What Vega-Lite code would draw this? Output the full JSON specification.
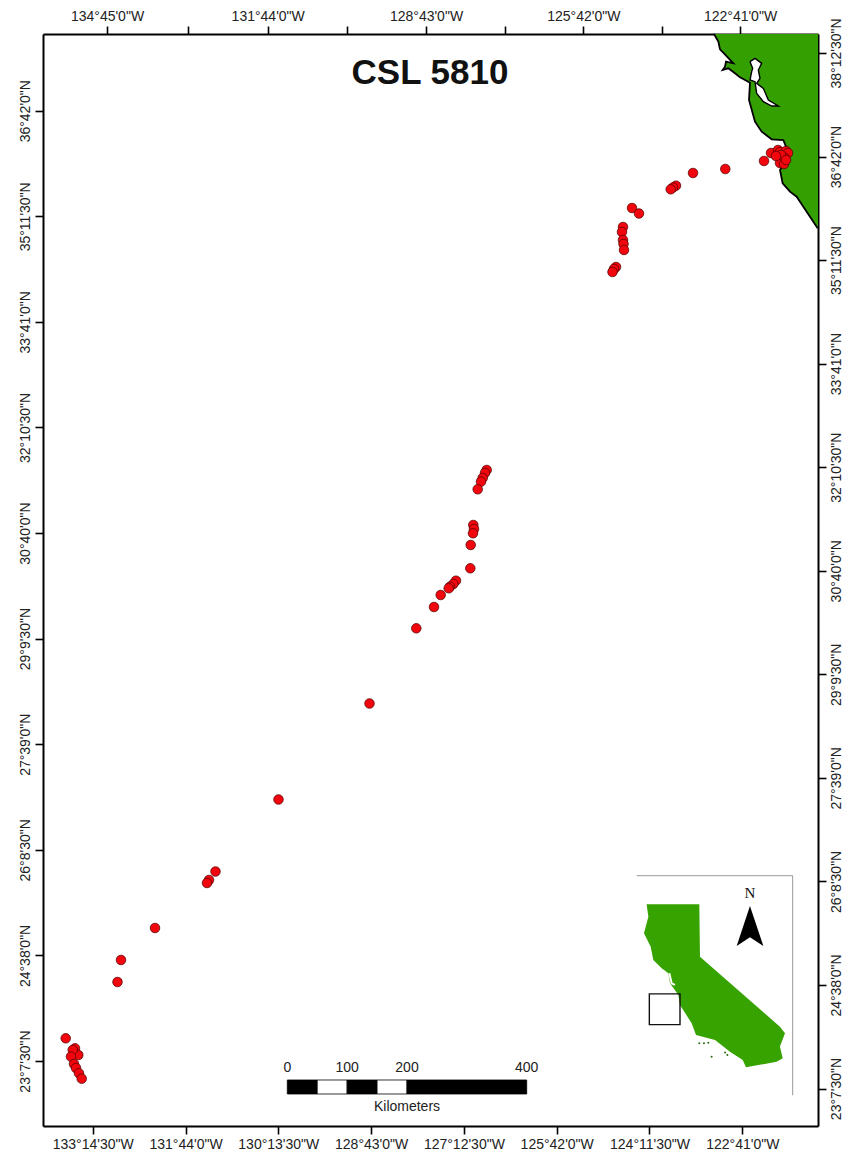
{
"$schema":"https://vega.github.io/schema/vega-lite/v6.json",
"width":775,"height":1092,"autosize":"none",
"padding":{"left":43,"top":34,"right":25,"bottom":28},
"background":"white",
"config":{"view":{"stroke":null},"axis":{"grid":false,"title":null,"domainColor":"black","domainWidth":2,"tickColor":"black","tickWidth":1.6,"tickSize":8,"labelFont":"Liberation Sans","labelFontSize":14,"labelColor":"#222222","labelPadding":3,"zindex":1,"labelOverlap":false,"labelBound":false,"labelFlush":false}},
"resolve":{"scale":{"x":"independent","y":"independent"},"axis":{"x":"independent","y":"independent"}},
"layer":[
{"data":{"values":[{"i":0,"lon":-123.1431,"lat":37.7957},{"i":1,"lon":-123.0727,"lat":37.6862},{"i":2,"lon":-123.0456,"lat":37.5767},{"i":3,"lon":-122.9806,"lat":37.5195},{"i":4,"lon":-122.8289,"lat":37.3767},{"i":5,"lon":-122.9481,"lat":37.4005},{"i":6,"lon":-122.9643,"lat":37.3291},{"i":7,"lon":-123.0022,"lat":37.2814},{"i":8,"lon":-122.9101,"lat":37.3053},{"i":9,"lon":-122.8018,"lat":37.2338},{"i":10,"lon":-122.7205,"lat":37.1767},{"i":11,"lon":-122.558,"lat":37.1005},{"i":12,"lon":-122.5742,"lat":36.8529},{"i":13,"lon":-122.4767,"lat":36.5434},{"i":14,"lon":-122.3683,"lat":36.4005},{"i":15,"lon":-122.2058,"lat":36.291},{"i":16,"lon":-122.0162,"lat":36.2815},{"i":17,"lon":-121.9782,"lat":36.1957},{"i":18,"lon":-121.9186,"lat":36.091},{"i":19,"lon":-121.962,"lat":35.9958},{"i":20,"lon":-122.0703,"lat":35.8529},{"i":21,"lon":-122.027,"lat":35.6625},{"i":22,"lon":-121.9078,"lat":35.5434},{"i":23,"lon":-121.7994,"lat":35.472},{"i":24,"lon":-121.6911,"lat":35.3291},{"i":25,"lon":-121.5827,"lat":35.1863},{"i":26,"lon":-121.4581,"lat":35.0196},{"i":27,"lon":-121.4527,"lat":35.0196},{"i":28,"lon":-121.4527,"lat":37.7957},{"i":29,"lon":-123.1431,"lat":37.7957}]},
"transform":[{"filter":"datum.i<=28"}],
"mark":{"type":"line","fill":"#339f00","stroke":"black","strokeWidth":0,"strokeJoin":"round"},
"encoding":{"order":{"field":"i"},
"x":{"field":"lon","type":"quantitative","scale":{"domain":[-134.0496,-121.4527],"nice":false,"zero":false},"axis":{"orient":"bottom","values":[-133.24167,-131.73333,-130.225,-128.71667,-127.20833,-125.7,-124.19167,-122.68333],"labelExpr":"floor(abs(datum.value)+1e-6)+'°'+floor((abs(datum.value)%1)*60+1e-3)+\"'\"+(round(((abs(datum.value)*60)%1)*60)%60)+'\"W'"}},
"y":{"field":"lat","type":"quantitative","scale":{"domain":[22.1964,37.7957],"nice":false,"zero":false},"axis":{"orient":"left","values":[36.7,35.19167,33.68333,32.175,30.66667,29.15833,27.65,26.14167,24.63333,23.125],"labelAngle":-90,"labelAlign":"center","labelBaseline":"bottom","labelExpr":"floor(datum.value+1e-6)+'°'+floor((datum.value%1)*60+1e-3)+\"'\"+(round(((datum.value*60)%1)*60)%60)+'\"N'"}}}},
{"data":{"values":[{"i":0,"lon":-123.1431,"lat":37.7957},{"i":1,"lon":-123.0727,"lat":37.6862},{"i":2,"lon":-123.0456,"lat":37.5767},{"i":3,"lon":-122.9806,"lat":37.5195},{"i":4,"lon":-122.8289,"lat":37.3767},{"i":5,"lon":-122.9481,"lat":37.4005},{"i":6,"lon":-122.9643,"lat":37.3291},{"i":7,"lon":-123.0022,"lat":37.2814},{"i":8,"lon":-122.9101,"lat":37.3053},{"i":9,"lon":-122.8018,"lat":37.2338},{"i":10,"lon":-122.7205,"lat":37.1767},{"i":11,"lon":-122.558,"lat":37.1005},{"i":12,"lon":-122.5742,"lat":36.8529},{"i":13,"lon":-122.4767,"lat":36.5434},{"i":14,"lon":-122.3683,"lat":36.4005},{"i":15,"lon":-122.2058,"lat":36.291},{"i":16,"lon":-122.0162,"lat":36.2815},{"i":17,"lon":-121.9782,"lat":36.1957},{"i":18,"lon":-121.9186,"lat":36.091},{"i":19,"lon":-121.962,"lat":35.9958},{"i":20,"lon":-122.0703,"lat":35.8529},{"i":21,"lon":-122.027,"lat":35.6625},{"i":22,"lon":-121.9078,"lat":35.5434},{"i":23,"lon":-121.7994,"lat":35.472},{"i":24,"lon":-121.6911,"lat":35.3291},{"i":25,"lon":-121.5827,"lat":35.1863},{"i":26,"lon":-121.4581,"lat":35.0196}]},
"mark":{"type":"line","stroke":"black","strokeWidth":1.8},
"encoding":{"order":{"field":"i"},
"x":{"field":"lon","type":"quantitative","scale":{"domain":[-134.0496,-121.4527],"nice":false,"zero":false},"axis":null},
"y":{"field":"lat","type":"quantitative","scale":{"domain":[22.1964,37.7957],"nice":false,"zero":false},"axis":null}}},
{"data":{"values":[{"i":0,"lon":-122.558,"lat":37.4005},{"i":1,"lon":-122.4767,"lat":37.4481},{"i":2,"lon":-122.3683,"lat":37.3767},{"i":3,"lon":-122.4225,"lat":37.2814},{"i":4,"lon":-122.3954,"lat":37.1624},{"i":5,"lon":-122.4495,"lat":37.091},{"i":6,"lon":-122.3412,"lat":37.0196},{"i":7,"lon":-122.26,"lat":36.8529},{"i":8,"lon":-122.0974,"lat":36.7672},{"i":9,"lon":-122.2058,"lat":36.7672},{"i":10,"lon":-122.3412,"lat":36.8291},{"i":11,"lon":-122.4495,"lat":36.9481},{"i":12,"lon":-122.4767,"lat":37.1148},{"i":13,"lon":-122.558,"lat":37.1386},{"i":14,"lon":-122.5309,"lat":37.2576},{"i":15,"lon":-122.5146,"lat":37.3053},{"i":16,"lon":-122.558,"lat":37.4005}]},
"mark":{"type":"line","fill":"white","stroke":"black","strokeWidth":1.4},
"encoding":{"order":{"field":"i"},
"x":{"field":"lon","type":"quantitative","scale":{"domain":[-134.0496,-121.4527],"nice":false,"zero":false},"axis":null},
"y":{"field":"lat","type":"quantitative","scale":{"domain":[22.1964,37.7957],"nice":false,"zero":false},"axis":null}}},
{"data":{"values":[{"lon":-122.3304,"lat":35.9815},{"lon":-122.2167,"lat":36.0958},{"lon":-122.1029,"lat":36.1386},{"lon":-122.0704,"lat":36.1101},{"lon":-121.9729,"lat":36.1244},{"lon":-121.9403,"lat":36.0958},{"lon":-121.9891,"lat":36.0244},{"lon":-122.0379,"lat":35.9958},{"lon":-122.0704,"lat":35.9529},{"lon":-122.0054,"lat":35.9387},{"lon":-122.0541,"lat":36.0672},{"lon":-122.1354,"lat":36.0529},{"lon":-121.9729,"lat":35.9958},{"lon":-122.9595,"lat":35.8672},{"lon":-123.4845,"lat":35.8101},{"lon":-123.7608,"lat":35.6287},{"lon":-123.8096,"lat":35.603},{"lon":-123.8469,"lat":35.5772},{"lon":-124.476,"lat":35.3101},{"lon":-124.3622,"lat":35.2316},{"lon":-124.6223,"lat":35.0387},{"lon":-124.6385,"lat":34.9673},{"lon":-124.6223,"lat":34.853},{"lon":-124.6141,"lat":34.7959},{"lon":-124.606,"lat":34.7101},{"lon":-124.736,"lat":34.4673},{"lon":-124.7685,"lat":34.4387},{"lon":-124.7929,"lat":34.3959},{"lon":-126.8377,"lat":31.5674},{"lon":-126.8653,"lat":31.5246},{"lon":-126.9027,"lat":31.4532},{"lon":-126.9303,"lat":31.4003},{"lon":-126.984,"lat":31.2917},{"lon":-127.0555,"lat":30.7818},{"lon":-127.0441,"lat":30.7246},{"lon":-127.0604,"lat":30.6632},{"lon":-127.0977,"lat":30.4961},{"lon":-127.1042,"lat":30.1632},{"lon":-127.3367,"lat":29.9861},{"lon":-127.3806,"lat":29.939},{"lon":-127.4342,"lat":29.9004},{"lon":-127.4553,"lat":29.8775},{"lon":-127.5854,"lat":29.7818},{"lon":-127.6943,"lat":29.6104},{"lon":-127.982,"lat":29.3061},{"lon":-128.7426,"lat":28.2319},{"lon":-130.2218,"lat":26.8605},{"lon":-131.2458,"lat":25.832},{"lon":-131.3514,"lat":25.7106},{"lon":-131.3839,"lat":25.6677},{"lon":-132.2291,"lat":25.0249},{"lon":-132.7818,"lat":24.5678},{"lon":-132.8387,"lat":24.2535},{"lon":-133.6806,"lat":23.4493},{"lon":-133.5294,"lat":23.3064},{"lon":-133.4758,"lat":23.2107},{"lon":-133.5668,"lat":23.2821},{"lon":-133.5945,"lat":23.1864},{"lon":-133.5457,"lat":23.0822},{"lon":-133.5132,"lat":23.025},{"lon":-133.4644,"lat":22.9493},{"lon":-133.4205,"lat":22.872}]},
"mark":{"type":"circle","size":92,"fill":"#f0060c","fillOpacity":1,"stroke":"#4a0000","strokeWidth":0.7},
"encoding":{
"x":{"field":"lon","type":"quantitative","scale":{"domain":[-134.0496,-121.4527],"nice":false,"zero":false},"axis":null},
"y":{"field":"lat","type":"quantitative","scale":{"domain":[22.1964,37.7957],"nice":false,"zero":false},"axis":null}}},
{"data":{"values":[{"lon":-127.7593,"lat":37.2386,"label":"CSL 5810"}]},
"mark":{"type":"text","font":"Liberation Sans","fontWeight":"bold","fontSize":35,"color":"#111111","align":"center","baseline":"middle"},
"encoding":{"text":{"field":"label"},
"x":{"field":"lon","type":"quantitative","scale":{"domain":[-134.0496,-121.4527],"nice":false,"zero":false},"axis":null},
"y":{"field":"lat","type":"quantitative","scale":{"domain":[22.1964,37.7957],"nice":false,"zero":false},"axis":null}}},
{"data":{"values":[{"lon":-134.75},{"lon":-133.24167},{"lon":-131.73333},{"lon":-130.225},{"lon":-128.71667},{"lon":-127.20833},{"lon":-125.7},{"lon":-124.19167},{"lon":-122.68333}]},
"mark":{"type":"rule","opacity":0},
"encoding":{"x":{"field":"lon","type":"quantitative","scale":{"domain":[-135.9514,-134.75,-133.24167,-131.73333,-130.225,-128.71667,-127.20833,-125.7,-124.19167,-122.68333,-121.175],"range":[0,64,144.7,224.7,304.3,383,461.7,540.3,619,697,775],"nice":false,"zero":false},"axis":{"orient":"top","values":[-134.75,-133.24167,-131.73333,-130.225,-128.71667,-127.20833,-125.7,-124.19167,-122.68333],"labelExpr":"round((abs(datum.value)-122.68333)/1.50833)%2==0 ? floor(abs(datum.value)+1e-6)+'°'+floor((abs(datum.value)%1)*60+1e-3)+\"'\"+(round(((abs(datum.value)*60)%1)*60)%60)+'\"W' : ''"}}}},
{"data":{"values":[{"lat":38.20833},{"lat":36.7},{"lat":35.19167},{"lat":33.68333},{"lat":32.175},{"lat":30.66667},{"lat":29.15833},{"lat":27.65},{"lat":26.14167},{"lat":24.63333},{"lat":23.125}]},
"mark":{"type":"rule","opacity":0},
"encoding":{"y":{"field":"lat","type":"quantitative","scale":{"domain":[22.579,38.485],"nice":false,"zero":false},"axis":{"orient":"right","values":[38.20833,36.7,35.19167,33.68333,32.175,30.66667,29.15833,27.65,26.14167,24.63333,23.125],"labelAngle":-90,"labelAlign":"center","labelBaseline":"top","labelExpr":"floor(datum.value+1e-6)+'°'+floor((datum.value%1)*60+1e-3)+\"'\"+(round(((datum.value*60)%1)*60)%60)+'\"N'"}}}},
{"data":{"values":[{"from":0,"to":50,"part":"black"},{"from":50,"to":100,"part":"white"},{"from":100,"to":150,"part":"black"},{"from":150,"to":200,"part":"white"},{"from":200,"to":400,"part":"black"}]},
"mark":{"type":"rect","stroke":"black","strokeWidth":0.8},
"encoding":{
"x":{"field":"from","type":"quantitative","scale":{"domain":[0,400],"range":[244.3,483.7],"nice":false,"zero":false},"axis":null},
"x2":{"field":"to"},
"y":{"datum":22.8536,"type":"quantitative","scale":{"domain":[22.1964,37.7957],"nice":false,"zero":false},"axis":null},
"y2":{"datum":22.6536},
"fill":{"field":"part","type":"nominal","scale":null,"legend":null}}},
{"data":{"values":[{"km":0,"lat":23.025,"label":"0"},{"km":100,"lat":23.025,"label":"100"},{"km":200,"lat":23.025,"label":"200"},{"km":400,"lat":23.025,"label":"400"},{"km":200,"lat":22.468,"label":"Kilometers"}]},
"mark":{"type":"text","font":"Liberation Sans","fontSize":14,"color":"#222222","align":"center","baseline":"middle"},
"encoding":{"text":{"field":"label"},
"x":{"field":"km","type":"quantitative","scale":{"domain":[0,400],"range":[244.3,483.7],"nice":false,"zero":false},"axis":null},
"y":{"field":"lat","type":"quantitative","scale":{"domain":[22.1964,37.7957],"nice":false,"zero":false},"axis":null}}},
{"data":{"values":[{"i":0,"lon":-124.94,"lat":43.65},{"i":1,"lon":-113.54,"lat":43.65},{"i":2,"lon":-113.54,"lat":30.85}]},
"mark":{"type":"line","stroke":"#9a9a9a","strokeWidth":1},
"encoding":{"order":{"field":"i"},
"x":{"field":"lon","type":"quantitative","scale":{"domain":[-124.4,-114.1],"range":[601,742],"nice":false,"zero":false},"axis":null},
"y":{"field":"lat","type":"quantitative","scale":{"domain":[32.5,42],"range":[1033,870],"nice":false,"zero":false},"axis":null}}},
{"data":{"values":[{"i":0,"lon":-124.21,"lat":41.98},{"i":1,"lon":-120.36,"lat":41.98},{"i":2,"lon":-120.31,"lat":38.93},{"i":3,"lon":-114.47,"lat":34.85},{"i":4,"lon":-114.1,"lat":34.46},{"i":5,"lon":-114.47,"lat":33.69},{"i":6,"lon":-114.27,"lat":33.01},{"i":7,"lon":-114.71,"lat":32.81},{"i":8,"lon":-116.95,"lat":32.48},{"i":9,"lon":-117.19,"lat":32.91},{"i":10,"lon":-118.12,"lat":33.39},{"i":11,"lon":-119.21,"lat":34.07},{"i":12,"lon":-120.6,"lat":34.37},{"i":13,"lon":-120.92,"lat":35.05},{"i":14,"lon":-121.77,"lat":36.11},{"i":15,"lon":-121.89,"lat":36.7},{"i":16,"lon":-122.5,"lat":37.38},{"i":17,"lon":-122.62,"lat":37.96},{"i":18,"lon":-123.11,"lat":38.25},{"i":19,"lon":-123.72,"lat":38.74},{"i":20,"lon":-123.91,"lat":39.51},{"i":21,"lon":-124.4,"lat":40.29},{"i":22,"lon":-124.08,"lat":41.26},{"i":23,"lon":-124.21,"lat":41.98}]},
"mark":{"type":"line","fill":"#37a300","strokeWidth":0},
"encoding":{"order":{"field":"i"},
"x":{"field":"lon","type":"quantitative","scale":{"domain":[-124.4,-114.1],"range":[601,742],"nice":false,"zero":false},"axis":null},
"y":{"field":"lat","type":"quantitative","scale":{"domain":[32.5,42],"range":[1033,870],"nice":false,"zero":false},"axis":null}}},
{"data":{"values":[{"i":0,"lon":-122.55,"lat":37.96},{"i":1,"lon":-122.38,"lat":37.38},{"i":2,"lon":-122.14,"lat":37.28}]},
"mark":{"type":"line","stroke":"white","strokeWidth":2},
"encoding":{"order":{"field":"i"},
"x":{"field":"lon","type":"quantitative","scale":{"domain":[-124.4,-114.1],"range":[601,742],"nice":false,"zero":false},"axis":null},
"y":{"field":"lat","type":"quantitative","scale":{"domain":[32.5,42],"range":[1033,870],"nice":false,"zero":false},"axis":null}}},
{"data":{"values":[{"lon":-120.36,"lat":33.88},{"lon":-120.02,"lat":33.88},{"lon":-119.7,"lat":33.92},{"lon":-118.48,"lat":33.34},{"lon":-118.31,"lat":33.2},{"lon":-119.46,"lat":33.1}]},
"mark":{"type":"circle","size":4,"fill":"#2a6a10","fillOpacity":1},
"encoding":{
"x":{"field":"lon","type":"quantitative","scale":{"domain":[-124.4,-114.1],"range":[601,742],"nice":false,"zero":false},"axis":null},
"y":{"field":"lat","type":"quantitative","scale":{"domain":[32.5,42],"range":[1033,870],"nice":false,"zero":false},"axis":null}}},
{"data":{"values":[{"lon0":-124.01,"lon1":-121.77,"lat0":36.76,"lat1":34.97}]},
"mark":{"type":"rect","fillOpacity":0,"stroke":"#111111","strokeWidth":1.4},
"encoding":{
"x":{"field":"lon0","type":"quantitative","scale":{"domain":[-124.4,-114.1],"range":[601,742],"nice":false,"zero":false},"axis":null},
"x2":{"field":"lon1"},
"y":{"field":"lat0","type":"quantitative","scale":{"domain":[32.5,42],"range":[1033,870],"nice":false,"zero":false},"axis":null},
"y2":{"field":"lat1"}}},
{"data":{"values":[{"i":0,"lon":-116.66,"lat":41.88},{"i":1,"lon":-117.63,"lat":39.55},{"i":2,"lon":-116.66,"lat":40.06},{"i":3,"lon":-115.68,"lat":39.55},{"i":4,"lon":-116.66,"lat":41.88}]},
"mark":{"type":"line","fill":"black","strokeWidth":0},
"encoding":{"order":{"field":"i"},
"x":{"field":"lon","type":"quantitative","scale":{"domain":[-124.4,-114.1],"range":[601,742],"nice":false,"zero":false},"axis":null},
"y":{"field":"lat","type":"quantitative","scale":{"domain":[32.5,42],"range":[1033,870],"nice":false,"zero":false},"axis":null}}},
{"data":{"values":[{"lon":-116.66,"lat":42.62,"label":"N"}]},
"mark":{"type":"text","font":"Liberation Serif","fontSize":15,"color":"#111111","align":"center","baseline":"middle"},
"encoding":{"text":{"field":"label"},
"x":{"field":"lon","type":"quantitative","scale":{"domain":[-124.4,-114.1],"range":[601,742],"nice":false,"zero":false},"axis":null},
"y":{"field":"lat","type":"quantitative","scale":{"domain":[32.5,42],"range":[1033,870],"nice":false,"zero":false},"axis":null}}}
]
}
